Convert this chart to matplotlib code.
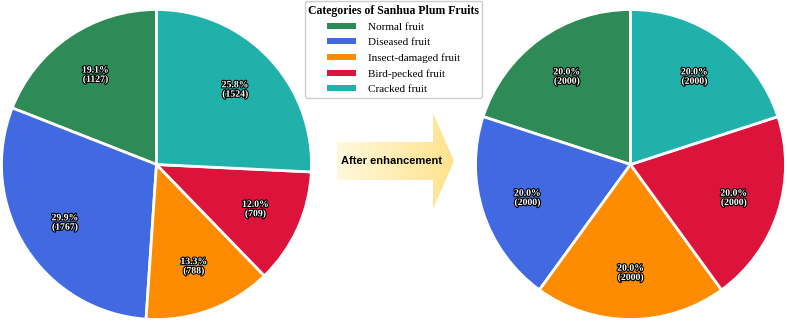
import matplotlib
matplotlib.use("Agg")
import matplotlib.pyplot as plt
import matplotlib.patheffects as pe
import numpy as np
from matplotlib.patches import Patch, Polygon

# Sanhua plum fruit categories, before and after data enhancement
categories = ['Normal fruit', 'Diseased fruit', 'Insect-damaged fruit',
              'Bird-pecked fruit', 'Cracked fruit']
colors = ['seagreen', 'royalblue', 'darkorange', 'crimson', 'lightseagreen']
counts_before = [1127, 1767, 788, 709, 1524]
counts_after = [2000, 2000, 2000, 2000, 2000]

W, H = 787, 323
fig = plt.figure(figsize=(W / 100, H / 100), dpi=100)

serif = 'Liberation Serif'
stroke = [pe.withStroke(linewidth=1.6, foreground='black')]


def draw_pie(cx, cy, r, counts):
    ax = fig.add_axes([(cx - r) / W, (H - cy - r) / H, 2 * r / W, 2 * r / H])
    total = sum(counts)
    wedges, texts, autotexts = ax.pie(
        counts, colors=colors, startangle=90, pctdistance=0.7,
        autopct=lambda p: f'{p:.1f}%\n({int(round(p * total / 100))})',
        wedgeprops=dict(edgecolor='white', linewidth=2),
        textprops=dict(color='white', fontsize=7, fontweight='bold',
                       family=serif, linespacing=1.0))
    for t in autotexts:
        t.set_path_effects(stroke)
    for w in wedges:
        w.set_clip_on(False)
    ax.set_xlim(-1, 1)
    ax.set_ylim(-1, 1)
    ax.set_aspect('equal')
    ax.axis('off')
    return ax


draw_pie(156.5, 164.5, 155, counts_before)
draw_pie(630.5, 164.5, 155, counts_after)

# legend
handles = [Patch(facecolor=c, edgecolor='none') for c in colors]
leg = fig.legend(handles, categories, loc='upper center',
                 bbox_to_anchor=(393.5 / W, 1.014),
                 title='Categories of Sanhua Plum Fruits',
                 prop=dict(family=serif, size=8),
                 title_fontproperties=dict(family=serif, size=8.5, weight='bold'),
                 handlelength=2.6, handleheight=0.45, handletextpad=1.1,
                 labelspacing=0.56, borderpad=0.32, frameon=True,
                 fancybox=True, edgecolor='#cccccc', framealpha=1)

# arrow with yellow gradient
ov = fig.add_axes([0, 0, 1, 1], zorder=-1)
ov.set_xlim(0, W)
ov.set_ylim(H, 0)
ov.axis('off')
arrow_pts = [(337, 142), (433, 142), (433, 113), (454, 161),
             (433, 209), (433, 180), (337, 180)]
arrow = Polygon(arrow_pts, closed=True, facecolor='none', edgecolor='none')
ov.add_patch(arrow)
grad = np.linspace(0, 1, 256).reshape(1, -1)
cmap = matplotlib.colors.LinearSegmentedColormap.from_list(
    'yel', ['#fff8dc', '#ffe28c'])
im = ov.imshow(grad, extent=[337, 454, 209, 113], cmap=cmap, aspect='auto')
im.set_clip_path(arrow)
ov.set_xlim(0, W)
ov.set_ylim(H, 0)
ov.text(392, 161, 'After enhancement', ha='center', va='center',
        fontsize=8, fontweight='bold', family='Liberation Sans')

fig.savefig('out.png', dpi=100)
